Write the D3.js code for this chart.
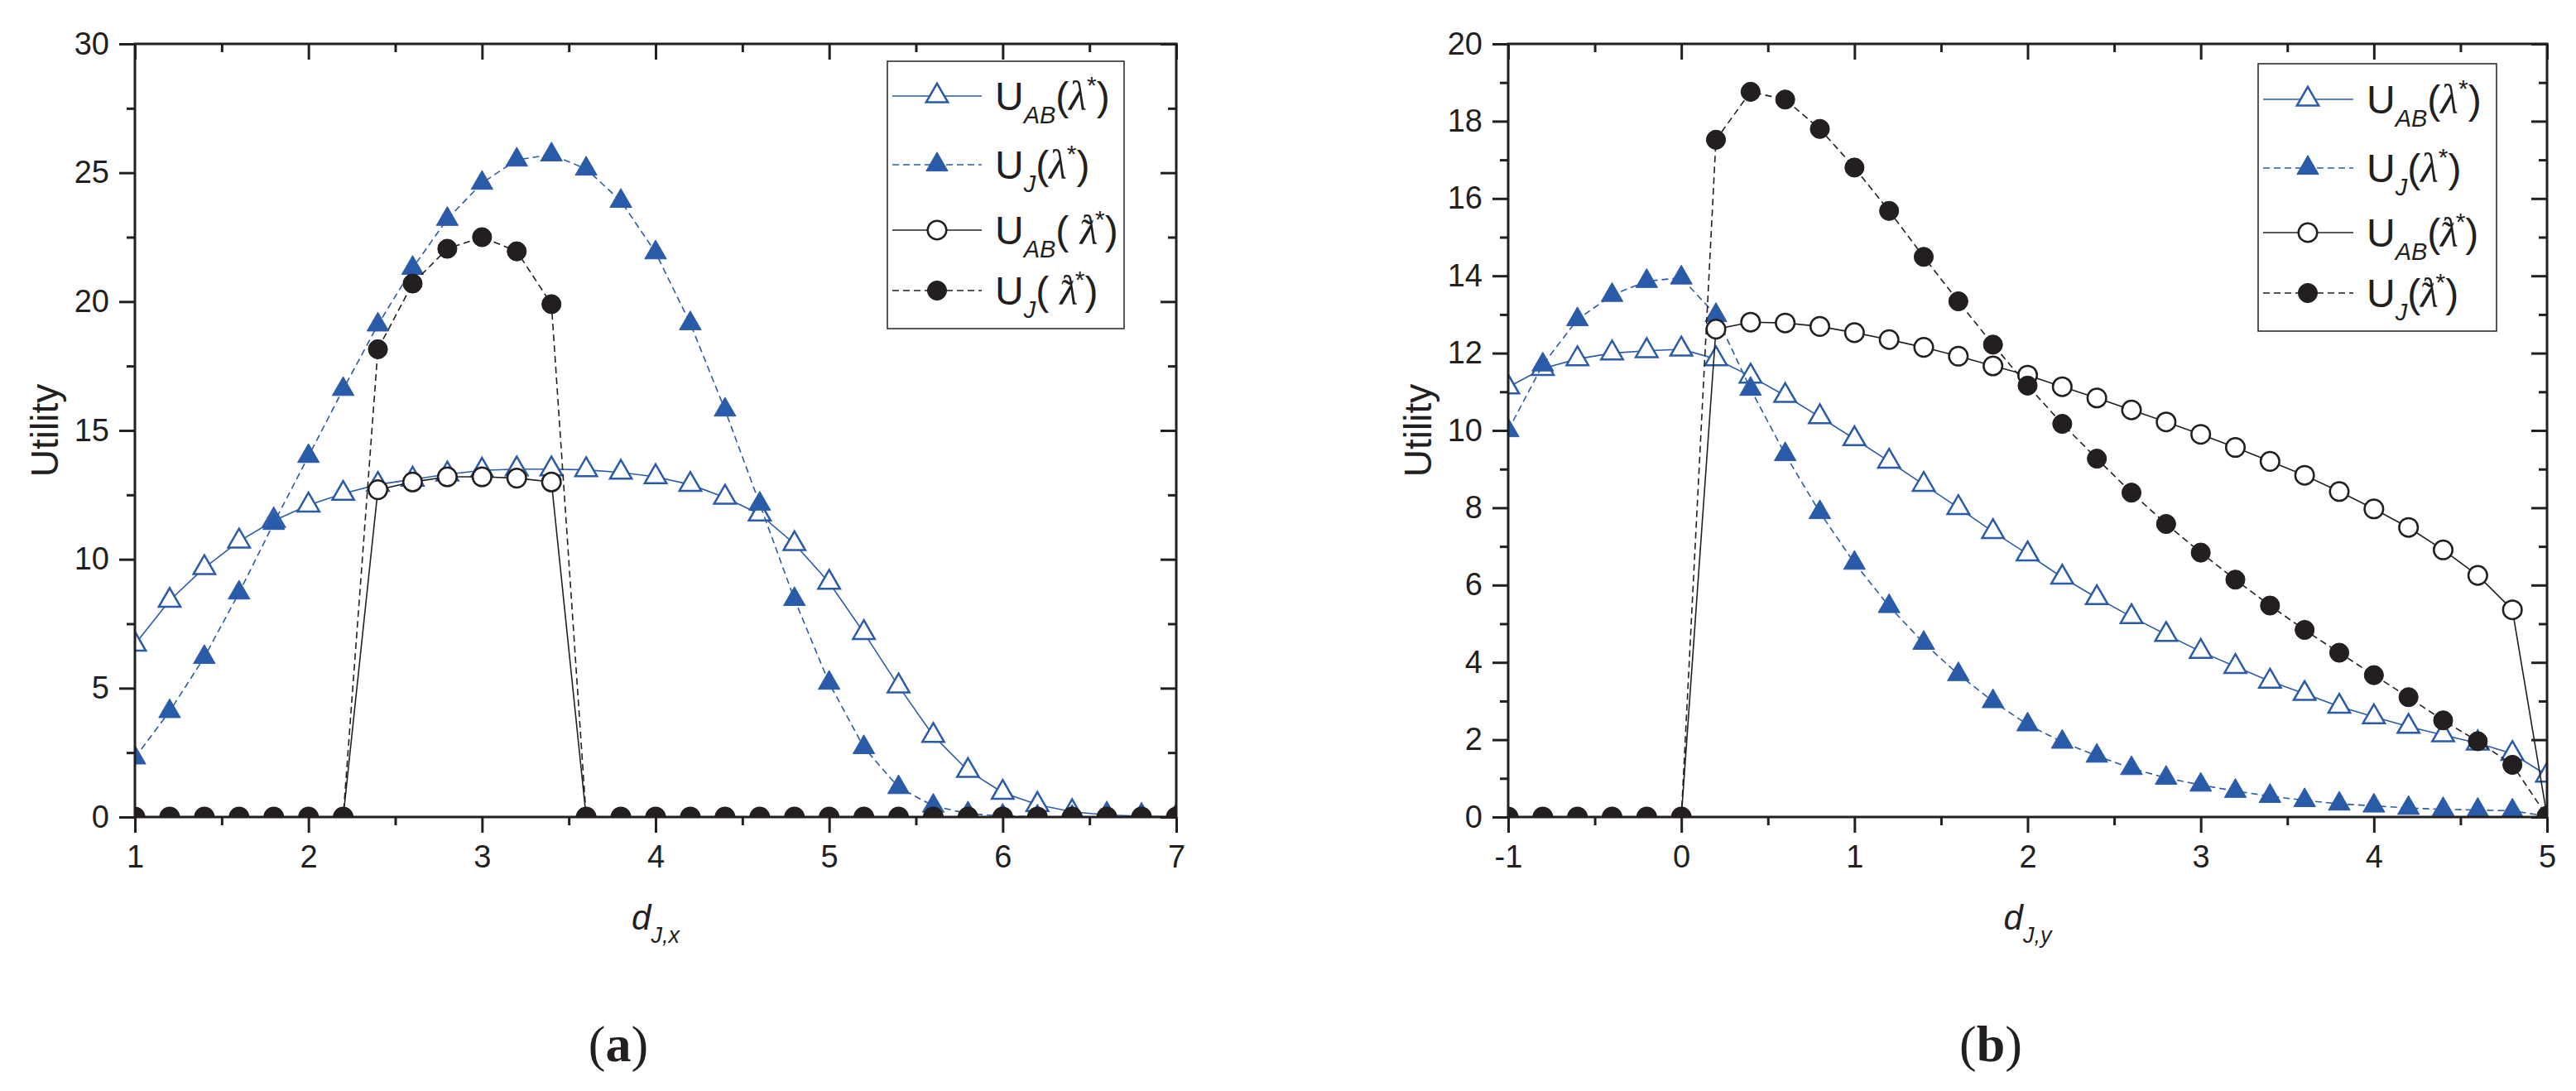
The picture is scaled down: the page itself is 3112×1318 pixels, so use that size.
<!DOCTYPE html>
<html>
<head>
<meta charset="utf-8">
<script src="https://cdn.jsdelivr.net/npm/d3@7"></script>
<style>
  body { margin: 0; background: #fff; }
  svg { display: block; }
  text { fill: #231f20; }
</style>
</head>
<body>
<div id="chart"></div>
<script>
// --- data: panel (a) -------------------------------------------
var xA = [1, 1.2, 1.4, 1.6, 1.8, 2, 2.2, 2.4, 2.6, 2.8, 3, 3.2, 3.4, 3.6, 3.8, 4,
          4.2, 4.4, 4.6, 4.8, 5, 5.2, 5.4, 5.6, 5.8, 6, 6.2, 6.4, 6.6, 6.8, 7]
var uabA = [6.7, 8.4, 9.67, 10.7, 11.5, 12.1, 12.55, 12.9, 13.1, 13.3, 13.45, 13.5, 13.5, 13.47, 13.37, 13.2,
            12.9, 12.4, 11.75, 10.6, 9.1, 7.15, 5.08, 3.16, 1.8, 0.95, 0.48, 0.2, 0.08, 0.03, 0.01]
var ujA = [2.3, 4.1, 6.2, 8.7, 11.4, 14.0, 16.6, 19.1, 21.3, 23.2, 24.6, 25.5, 25.7, 25.15, 23.9, 21.9,
           19.15, 15.8, 12.15, 8.45, 5.2, 2.7, 1.15, 0.43, 0.13, 0.04, 0.01, 0, 0, 0, 0]
var uabTildeA = [0, 0, 0, 0, 0, 0, 0, 12.7, 13.0, 13.2, 13.2, 13.15, 13.0, 0, 0, 0,
                 0, 0, 0, 0, 0, 0, 0, 0, 0, 0, 0, 0, 0, 0, 0]
var ujTildeA = [0, 0, 0, 0, 0, 0, 0, 18.15, 20.7, 22.05, 22.5, 21.95, 19.9, 0, 0, 0,
                0, 0, 0, 0, 0, 0, 0, 0, 0, 0, 0, 0, 0, 0, 0]
var xTicksA = [1, 2, 3, 4, 5, 6, 7]
var xMinorA = [1.5, 2.5, 3.5, 4.5, 5.5, 6.5]
var yTicksA = [0, 5, 10, 15, 20, 25, 30]
var yMinorA = [2.5, 7.5, 12.5, 17.5, 22.5, 27.5]

// --- data: panel (b) -------------------------------------------
var xB = [-1, -0.8, -0.6, -0.4, -0.2, 0, 0.2, 0.4, 0.6, 0.8, 1, 1.2, 1.4, 1.6, 1.8, 2,
          2.2, 2.4, 2.6, 2.8, 3, 3.2, 3.4, 3.6, 3.8, 4, 4.2, 4.4, 4.6, 4.8, 5]
var uabB = [11.12, 11.6, 11.85, 12.0, 12.06, 12.1, 11.85, 11.4, 10.9, 10.35, 9.78, 9.2, 8.6, 8.0, 7.38, 6.8,
            6.2, 5.67, 5.18, 4.72, 4.28, 3.89, 3.51, 3.19, 2.86, 2.59, 2.34, 2.12, 1.91, 1.64, 1.08]
var ujB = [10.0, 11.7, 12.87, 13.5, 13.86, 13.95, 12.98, 11.07, 9.38, 7.88, 6.57, 5.45, 4.5, 3.69, 2.99, 2.39,
           1.94, 1.58, 1.26, 1.01, 0.83, 0.67, 0.54, 0.43, 0.34, 0.29, 0.23, 0.2, 0.18, 0.16, 0.02]
var uabTildeB = [0, 0, 0, 0, 0, 0, 12.62, 12.8, 12.78, 12.69, 12.53, 12.35, 12.15, 11.92, 11.67, 11.43,
                 11.13, 10.84, 10.53, 10.22, 9.9, 9.56, 9.2, 8.84, 8.42, 7.97, 7.49, 6.91, 6.25, 5.36, 0.02]
var ujTildeB = [0, 0, 0, 0, 0, 0, 17.52, 18.76, 18.56, 17.8, 16.8, 15.68, 14.49, 13.34, 12.22, 11.16,
                10.17, 9.27, 8.39, 7.58, 6.84, 6.14, 5.47, 4.84, 4.25, 3.67, 3.1, 2.5, 1.96, 1.35, 0.02]
var xTicksB = [-1, 0, 1, 2, 3, 4, 5]
var xMinorB = [-0.5, 0.5, 1.5, 2.5, 3.5, 4.5]
var yTicksB = [0, 2, 4, 6, 8, 10, 12, 14, 16, 18, 20]
var yMinorB = [1, 3, 5, 7, 9, 11, 13, 15, 17, 19]

// --- styles ----------------------------------------------------
var blue = '#2a5ba8',
    dark = '#231f20',
    sans = '"Liberation Sans", Arial, sans-serif',
    serif = '"Liberation Serif", "Times New Roman", serif'

var seriesStyle = [
  { color: blue, dash: null, shape: d3.symbolTriangle, filled: false, size: 300 },
  { color: blue, dash: '8,5', shape: d3.symbolTriangle, filled: true, size: 300 },
  { color: dark, dash: null, shape: d3.symbolCircle, filled: false, size: 400 },
  { color: dark, dash: '8,5', shape: d3.symbolCircle, filled: true, size: 420 }
]

var W = 3112, H = 1318

var svg = d3.select('#chart').append('svg')
  .attr('width', W)
  .attr('height', H)

var panels = [
  {
    id: 'a', left: 163, right: 1421, top: 53, bottom: 987,
    xDomain: [1, 7], yDomain: [0, 30],
    x: xA, series: [uabA, ujA, uabTildeA, ujTildeA],
    xTicks: xTicksA, xMinor: xMinorA, yTicks: yTicksA, yMinor: yMinorA,
    sub: 'J,x', tag: '(a)', tagX: 747,
    legend: { x: 1072, y: 74, w: 286, h: 323, rows: [116, 199, 278, 351], l0: 1078, l1: 1186, m: 1132, t: 1202, space: true }
  },
  {
    id: 'b', left: 1822, right: 3077, top: 53, bottom: 987,
    xDomain: [-1, 5], yDomain: [0, 20],
    x: xB, series: [uabB, ujB, uabTildeB, ujTildeB],
    xTicks: xTicksB, xMinor: xMinorB, yTicks: yTicksB, yMinor: yMinorB,
    sub: 'J,y', tag: '(b)', tagX: 2405,
    legend: { x: 2728, y: 77, w: 288, h: 323, rows: [120, 203, 281, 354], l0: 2734, l1: 2843, m: 2788, t: 2859, space: false }
  }
]

panels.forEach(drawPanel)

function drawPanel(p) {
  var x = d3.scaleLinear().domain(p.xDomain).range([p.left, p.right]),
      y = d3.scaleLinear().domain(p.yDomain).range([p.bottom, p.top])

  var g = svg.append('g').attr('class', 'panel-' + p.id)

  // clip so edge markers get cut like the original
  g.append('clipPath').attr('id', 'clip-' + p.id)
    .append('rect')
      .attr('x', p.left).attr('y', p.top)
      .attr('width', p.right - p.left).attr('height', p.bottom - p.top)

  // --- axes: outward ticks bottom/left, inward mirrors top/right
  function axis(gen, scale, vals, size, pos, labels, pad) {
    var a = gen(scale).tickValues(vals).tickSizeInner(size).tickSizeOuter(0)
    a.tickFormat(labels ? (d) => String(d) : '').tickPadding(pad || 3)
    var ag = g.append('g').attr('transform', pos).call(a)
    ag.select('.domain').remove()
    ag.selectAll('line').attr('stroke', dark).attr('stroke-width', 3)
    ag.selectAll('text')
      .style('font-family', sans).style('font-size', '38px')
      .attr('fill', dark)
    return ag
  }
  axis(d3.axisBottom, x, p.xTicks, 19, `translate(0,${p.bottom})`, true, 15)
  axis(d3.axisBottom, x, p.xMinor, 10, `translate(0,${p.bottom})`, false)
  axis(d3.axisTop, x, p.xTicks, -19, `translate(0,${p.top})`, false)
  axis(d3.axisTop, x, p.xMinor, -10, `translate(0,${p.top})`, false)
  axis(d3.axisLeft, y, p.yTicks, 19, `translate(${p.left},0)`, true, 12)
  axis(d3.axisLeft, y, p.yMinor, 10, `translate(${p.left},0)`, false)
  axis(d3.axisRight, y, p.yTicks, -19, `translate(${p.right},0)`, false)
  axis(d3.axisRight, y, p.yMinor, -10, `translate(${p.right},0)`, false)

  // --- series
  var plot = g.append('g').attr('clip-path', `url(#clip-${p.id})`)
  var line = d3.line().x((d) => x(d[0])).y((d) => y(d[1]))

  p.series.forEach((vals, i) => {
    var st = seriesStyle[i],
        pts = vals.map((v, k) => [p.x[k], v])

    plot.append('path')
      .datum(pts)
      .attr('d', line)
      .attr('fill', 'none')
      .attr('stroke', st.color)
      .attr('stroke-width', 1.6)
      .attr('stroke-dasharray', st.dash)

    plot.append('g').selectAll('path')
      .data(pts)
      .enter().append('path')
        .attr('d', d3.symbol().type(st.shape).size(st.size))
        .attr('transform', (d) => `translate(${x(d[0])},${y(d[1])})`)
        .attr('fill', st.filled ? st.color : '#fff')
        .attr('stroke', st.color)
        .attr('stroke-width', st.filled ? 1 : 2.5)
  })

  // frame on top
  g.append('rect')
    .attr('x', p.left).attr('y', p.top)
    .attr('width', p.right - p.left).attr('height', p.bottom - p.top)
    .attr('fill', 'none').attr('stroke', dark).attr('stroke-width', 3)

  // --- axis titles
  g.append('text')
    .attr('transform', `translate(${p.left - 93},${(p.top + p.bottom) / 2}) rotate(-90)`)
    .attr('text-anchor', 'middle')
    .style('font-family', sans).style('font-size', '46px')
    .text('Utility')

  var xl = g.append('text')
    .attr('x', (p.left + p.right) / 2).attr('y', 1123)
    .attr('text-anchor', 'middle')
    .style('font-family', sans).style('font-style', 'italic')
  xl.append('tspan').style('font-size', '42px').text('d')
  xl.append('tspan').style('font-size', '27px').attr('dy', 16).text(p.sub)

  g.append('text')
    .attr('x', p.tagX).attr('y', 1282)
    .attr('text-anchor', 'middle')
    .style('font-family', serif).style('font-size', '62px')
    .each(function() {
      var t = d3.select(this)
      t.append('tspan').text('(')
      t.append('tspan').style('font-weight', 'bold').text(p.tag[1])
      t.append('tspan').text(')')
    })

  drawLegend(g, p.legend)
}

// --- legend ----------------------------------------------------
function drawLegend(g, L) {
  var subs = ['AB', 'J', 'AB', 'J']

  g.append('rect')
    .attr('x', L.x).attr('y', L.y).attr('width', L.w).attr('height', L.h)
    .attr('fill', '#fff').attr('stroke', dark).attr('stroke-width', 1.5)

  L.rows.forEach((ry, i) => {
    var st = seriesStyle[i],
        tilde = i >= 2
    g.append('line')
      .attr('x1', L.l0).attr('x2', L.l1).attr('y1', ry).attr('y2', ry)
      .attr('stroke', st.color).attr('stroke-width', 1.6)
      .attr('stroke-dasharray', st.dash)
    g.append('path')
      .attr('d', d3.symbol().type(st.shape).size(st.size))
      .attr('transform', `translate(${L.m},${ry})`)
      .attr('fill', st.filled ? st.color : '#fff')
      .attr('stroke', st.color)
      .attr('stroke-width', st.filled ? 1 : 2.5)

    var t = g.append('text')
      .attr('x', L.t).attr('y', ry + 17)
      .style('font-family', sans).style('font-size', '48px')
    t.append('tspan').text('U')
    t.append('tspan').attr('dy', 16).style('font-size', '29px').style('font-style', 'italic').text(subs[i])
    t.append('tspan').attr('dy', -16).text(tilde && L.space ? '( ' : '(')
    t.append('tspan').style('font-family', serif).style('font-style', 'italic').style('font-size', '50px').text('\u03bb')
    if (tilde) {
      // tilde set over the lambda
      t.append('tspan').attr('dx', -20).style('font-family', serif).style('font-size', '44px').text('\u02dc')
    }
    t.append('tspan').attr('dy', -20).attr('dx', tilde ? 2 : 0).style('font-size', '30px').text('*')
    t.append('tspan').attr('dy', 20).text(')')
  })
}
</script>
</body>
</html>
